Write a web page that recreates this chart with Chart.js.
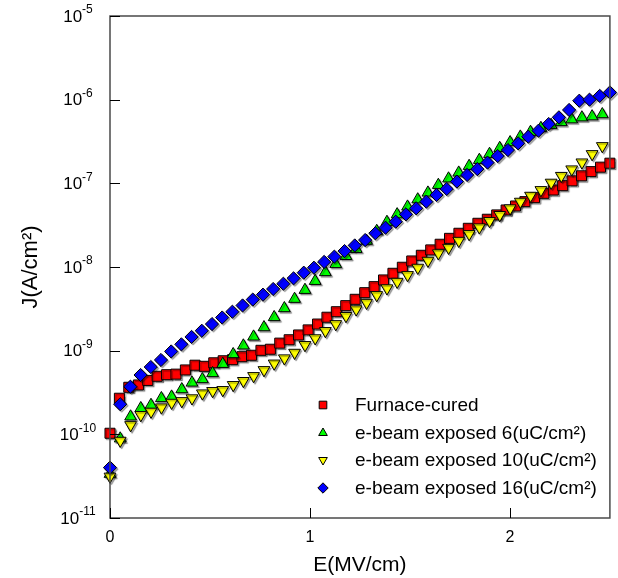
<!DOCTYPE html>
<html><head><meta charset="utf-8">
<script src="https://cdn.jsdelivr.net/npm/chart.js@4.4.1/dist/chart.umd.min.js"></script>
<style>html,body{margin:0;padding:0;background:#fff;}canvas{display:block;}</style>
</head><body>
<canvas id="c" width="618" height="578"></canvas>
<script>
const FONT = "'Liberation Sans', Arial, Helvetica, sans-serif";

const seriesLabels = ['Furnace-cured', 'e-beam exposed 6(uC/cm²)', 'e-beam exposed 10(uC/cm²)', 'e-beam exposed 16(uC/cm²)'];
const xTitle = 'E(MV/cm)';
const yTitle = 'J(A/cm²)';
const xTickValues = [0, 1, 2];
const yTickValues = [1e-11, 1e-10, 1e-9, 1e-8, 1e-7, 1e-6, 1e-5];

// Furnace-cured (E in MV/cm, J in A/cm^2)
const eFurnace = [0, 0.047, 0.094, 0.142, 0.189, 0.236, 0.283, 0.330, 0.377, 0.425,
  0.472, 0.519, 0.566, 0.613, 0.660, 0.708, 0.755, 0.802, 0.849, 0.896,
  0.943, 0.991, 1.038, 1.085, 1.132, 1.179, 1.226, 1.274, 1.321, 1.368,
  1.415, 1.462, 1.509, 1.557, 1.604, 1.651, 1.698, 1.745, 1.792, 1.840,
  1.887, 1.934, 1.981, 2.028, 2.075, 2.123, 2.170, 2.217, 2.264, 2.311,
  2.358, 2.406, 2.453, 2.500];
const jFurnace = [1.03e-10, 2.70e-10, 3.65e-10, 3.89e-10, 4.41e-10, 4.94e-10, 5.16e-10, 5.24e-10, 5.88e-10, 6.70e-10,
  6.50e-10, 7.16e-10, 7.57e-10, 7.80e-10, 8.47e-10, 8.81e-10, 1.01e-9, 1.04e-9, 1.23e-9, 1.35e-9,
  1.54e-9, 1.77e-9, 2.08e-9, 2.51e-9, 2.92e-9, 3.45e-9, 4.11e-9, 4.93e-9, 5.82e-9, 7.00e-9,
  8.41e-9, 9.93e-9, 1.18e-8, 1.38e-8, 1.60e-8, 1.87e-8, 2.20e-8, 2.53e-8, 2.90e-8, 3.33e-8,
  3.72e-8, 4.19e-8, 4.80e-8, 5.36e-8, 6.04e-8, 6.74e-8, 7.60e-8, 8.32e-8, 9.37e-8, 1.07e-7,
  1.23e-7, 1.38e-7, 1.56e-7, 1.74e-7];

// e-beam 6 and 10 uC/cm^2 share the same field steps
const eBeam6and10 = [0, 0.051, 0.103, 0.154, 0.205, 0.257, 0.308, 0.359, 0.410, 0.462,
  0.513, 0.564, 0.616, 0.667, 0.718, 0.770, 0.821, 0.872, 0.923, 0.975,
  1.026, 1.077, 1.129, 1.180, 1.231, 1.283, 1.334, 1.385, 1.436, 1.488,
  1.539, 1.590, 1.642, 1.693, 1.744, 1.796, 1.847, 1.898, 1.949, 2.001,
  2.052, 2.103, 2.155, 2.206, 2.257, 2.309, 2.360, 2.411, 2.462];
const jBeam6 = [3.36e-11, 8.9e-11, 1.63e-10, 2.05e-10, 2.24e-10, 2.70e-10, 2.82e-10, 3.45e-10, 4.14e-10, 4.55e-10,
  5.37e-10, 6.93e-10, 9.06e-10, 1.15e-9, 1.47e-9, 1.90e-9, 2.51e-9, 3.21e-9, 4.15e-9, 5.31e-9,
  6.8e-9, 8.65e-9, 1.08e-8, 1.35e-8, 1.64e-8, 2.05e-8, 2.69e-8, 3.45e-8, 4.25e-8, 5.26e-8,
  6.41e-8, 7.73e-8, 9.55e-8, 1.14e-7, 1.34e-7, 1.61e-7, 1.90e-7, 2.24e-7, 2.64e-7, 3.09e-7,
  3.61e-7, 4.11e-7, 4.58e-7, 4.98e-7, 5.37e-7, 5.80e-7, 6.12e-7, 6.30e-7, 6.68e-7];
const jBeam10 = [3.13e-11, 8.4e-11, 1.29e-10, 1.70e-10, 1.87e-10, 2.10e-10, 2.39e-10, 2.50e-10, 2.70e-10, 3.09e-10,
  3.30e-10, 3.39e-10, 3.89e-10, 4.35e-10, 4.98e-10, 5.87e-10, 7.03e-10, 8.11e-10, 9.46e-10, 1.17e-9,
  1.41e-9, 1.72e-9, 2.08e-9, 2.60e-9, 3.12e-9, 3.74e-9, 4.62e-9, 5.57e-9, 6.67e-9, 8.02e-9,
  9.82e-9, 1.19e-8, 1.46e-8, 1.70e-8, 2.06e-8, 2.48e-8, 2.98e-8, 3.55e-8, 4.19e-8, 5.03e-8,
  6.04e-8, 7.12e-8, 8.32e-8, 1.02e-7, 1.23e-7, 1.47e-7, 1.78e-7, 2.24e-7, 2.79e-7];

// e-beam 16 uC/cm^2
const eBeam16 = [0, 0.051, 0.102, 0.153, 0.204, 0.255, 0.306, 0.357, 0.408, 0.459,
  0.510, 0.561, 0.612, 0.663, 0.714, 0.765, 0.816, 0.867, 0.918, 0.969,
  1.020, 1.071, 1.122, 1.173, 1.224, 1.276, 1.327, 1.378, 1.429, 1.480,
  1.531, 1.582, 1.633, 1.684, 1.735, 1.786, 1.837, 1.888, 1.939, 1.990,
  2.041, 2.092, 2.143, 2.194, 2.245, 2.296, 2.347, 2.398, 2.449, 2.500];
const jBeam16 = [4.0e-11, 2.29e-10, 3.71e-10, 5.12e-10, 6.38e-10, 7.74e-10, 9.78e-10, 1.19e-9, 1.46e-9, 1.73e-9,
  2.08e-9, 2.49e-9, 2.92e-9, 3.47e-9, 4.08e-9, 4.67e-9, 5.46e-9, 6.31e-9, 7.32e-9, 8.55e-9,
  9.8e-9, 1.15e-8, 1.33e-8, 1.55e-8, 1.81e-8, 2.10e-8, 2.53e-8, 2.95e-8, 3.48e-8, 4.26e-8,
  5.03e-8, 6.04e-8, 7.26e-8, 8.56e-8, 1.05e-7, 1.26e-7, 1.48e-7, 1.77e-7, 2.12e-7, 2.50e-7,
  3.01e-7, 3.61e-7, 4.26e-7, 5.12e-7, 6.15e-7, 7.53e-7, 9.72e-7, 1.00e-6, 1.11e-6, 1.22e-6];

function pts(xs, ys) { return xs.map((x, i) => ({ x: x, y: ys[i] })); }

function mkDataset(label, data, style, rot, radius, color, order, legendRadius) {
  return {
    label: label, data: data, showLine: false, clip: false, order: order,
    pointStyle: style, pointRotation: rot, pointRadius: radius, pointHoverRadius: radius,
    pointBackgroundColor: color, pointBorderColor: '#000', pointBorderWidth: 1,
    backgroundColor: color, borderColor: '#000', legendRadius: legendRadius
  };
}

const datasets = [
  mkDataset(seriesLabels[0], pts(eFurnace, jFurnace), 'rect', 0, 7.1, '#ff0000', 3, 5.4),
  mkDataset(seriesLabels[1], pts(eBeam6and10, jBeam6), 'triangle', 0, 6.8, '#00ff00', 2, 5.0),
  mkDataset(seriesLabels[2], pts(eBeam6and10, jBeam10), 'triangle', 180, 6.8, '#ffff00', 1, 5.0),
  mkDataset(seriesLabels[3], pts(eBeam16, jBeam16), 'rectRot', 0, 6.6, '#0000ff', 0, 5.2)
];

const shadowPlugin = {
  id: 'shadow',
  beforeDatasetsDraw(chart) {
    const ctx = chart.ctx;
    ctx.save();
    ctx.shadowColor = 'rgba(0,0,0,0.35)';
    ctx.shadowOffsetX = 1.5;
    ctx.shadowOffsetY = 1.5;
    ctx.shadowBlur = 1;
  },
  afterDatasetsDraw(chart) { chart.ctx.restore(); }
};

function drawMarker(ctx, style, rot, r, x, y) {
  if (Chart.helpers && Chart.helpers.drawPoint) {
    Chart.helpers.drawPoint(ctx, { pointStyle: style, rotation: rot, radius: r, borderWidth: 1 }, x, y);
  }
}

const decorPlugin = {
  id: 'decor',
  afterDraw(chart) {
    const ctx = chart.ctx, a = chart.chartArea;
    const xs = chart.scales.x, ys = chart.scales.y;
    ctx.save();
    // frame
    ctx.strokeStyle = '#4a4a4a';
    ctx.lineWidth = 1.5;
    ctx.strokeRect(a.left, a.top, a.right - a.left, a.bottom - a.top);
    // inward tick marks
    ctx.strokeStyle = '#000';
    ctx.lineWidth = 1;
    xs.ticks.forEach(t => {
      const px = Math.round(xs.getPixelForValue(t.value)) + 0.5;
      ctx.beginPath(); ctx.moveTo(px, a.bottom); ctx.lineTo(px, a.bottom - 10); ctx.stroke();
    });
    ys.ticks.forEach(t => {
      const py = Math.round(ys.getPixelForValue(t.value)) + 0.5;
      ctx.beginPath(); ctx.moveTo(a.left, py); ctx.lineTo(a.left + 10, py); ctx.stroke();
    });
    // y tick labels with superscript exponents
    ctx.fillStyle = '#000';
    ctx.textAlign = 'left';
    ctx.textBaseline = 'middle';
    ys.ticks.forEach(t => {
      const py = ys.getPixelForValue(t.value);
      const exp = String(Math.round(Math.log10(t.value)));
      ctx.font = '17px ' + FONT;
      const wb = ctx.measureText('10').width;
      ctx.font = '12px ' + FONT;
      const we = ctx.measureText(exp).width;
      const x0 = a.left - 32 - (wb + we) / 2;
      ctx.font = '17px ' + FONT;
      ctx.fillText('10', x0, py + 1);
      ctx.font = '12px ' + FONT;
      ctx.fillText(exp, x0 + wb, py - 6);
    });
    // legend
    const lx = a.left + 213, tx = a.left + 245;
    const rowY = [a.top + 389, a.top + 417, a.top + 444, a.top + 472];
    chart.data.datasets.forEach((ds, i) => {
      ctx.fillStyle = ds.pointBackgroundColor;
      ctx.strokeStyle = '#000';
      ctx.lineWidth = 1;
      drawMarker(ctx, ds.pointStyle, ds.pointRotation, ds.legendRadius, lx, rowY[i]);
      ctx.fillStyle = '#000';
      ctx.font = '19px ' + FONT;
      ctx.textBaseline = 'middle';
      ctx.fillText(ds.label, tx, rowY[i] + 1);
    });
    ctx.restore();
  }
};

new Chart(document.getElementById('c'), {
  type: 'scatter',
  data: { datasets: datasets },
  options: {
    responsive: false,
    animation: false,
    devicePixelRatio: 1,
    layout: { padding: { top: 16, right: 3, left: 0, bottom: 0 } },
    plugins: { legend: { display: false }, tooltip: { enabled: false } },
    scales: {
      x: {
        type: 'linear', min: 0, max: 2.5,
        afterBuildTicks: s => { s.ticks = xTickValues.map(v => ({ value: v })); },
        afterFit: s => { s.height = 60; },
        grid: { display: false, drawTicks: false },
        border: { display: false },
        ticks: { color: '#000', font: { family: FONT, size: 16 }, padding: 10, maxRotation: 0, autoSkip: false,
          callback: v => String(v) },
        title: { display: true, text: xTitle, color: '#000', font: { family: FONT, size: 21 }, padding: { top: 3, bottom: 0 } }
      },
      y: {
        type: 'logarithmic', min: 1e-11, max: 1e-5,
        afterBuildTicks: s => { s.ticks = yTickValues.map(v => ({ value: v })); },
        afterFit: s => { s.width = 110; },
        grid: { display: false, drawTicks: false },
        border: { display: false },
        ticks: { display: false },
        title: { display: true, text: yTitle, color: '#000', font: { family: FONT, size: 22 }, padding: { top: 18, bottom: 0 } }
      }
    }
  },
  plugins: [shadowPlugin, decorPlugin]
});
</script>
</body></html>
